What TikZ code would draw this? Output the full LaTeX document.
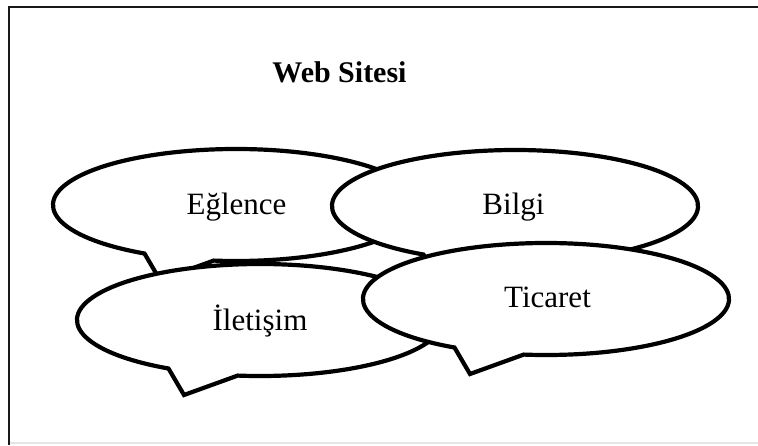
\documentclass[tikz,border=0pt]{standalone}
\usepackage{fontspec}
\setmainfont{Liberation Serif}
\begin{document}
\begin{tikzpicture}[x=1pt,y=-1pt,
  bubbleline/.style={draw=black,fill=white,line width=4.2pt,line join=miter},
  bubble/.pic={
    \path[bubbleline] ({183*cos(120)},{56*sin(120)})
      arc[start angle=120,end angle=457,x radius=183,y radius=56]
      -- (-76,75) -- cycle;
  },
  bubbletext/.style={anchor=base,inner sep=0pt,font=\fontsize{31}{36}\selectfont},
  titletext/.style={anchor=base,inner sep=0pt,font=\fontsize{30}{36}\selectfont\bfseries}
]
\useasboundingbox (0,0) rectangle (758,445);
% page frame
\draw[line width=2.2pt,black!90] (8,7) -- (758,7);
\draw[line width=2.2pt,black!90] (9,7) -- (9,445);
\draw[line width=1.2pt,black!10] (10,443) -- (758,443);

\node[titletext] (title) at (339.5,82) {Web Sitesi};

% speech bubbles, back to front
\pic at (236,205) {bubble};
\node[bubbletext] (eglence) at (236.5,214) {Eğlence};
\pic at (515,206) {bubble};
\node[bubbletext] (bilgi) at (513.5,214) {Bilgi};
\pic at (260,320) {bubble};
\node[bubbletext] (iletisim) at (260,330) {İletişim};
\pic at (546,299) {bubble};
\node[bubbletext] (ticaret) at (547.5,307) {Ticaret};
\end{tikzpicture}
\end{document}
